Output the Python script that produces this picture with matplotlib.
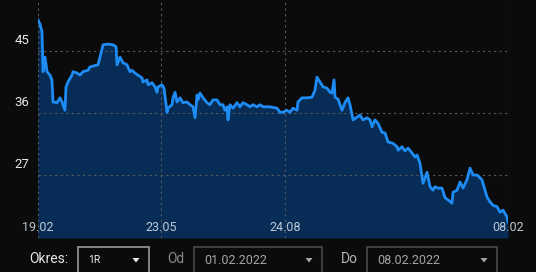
import matplotlib.pyplot as plt
from matplotlib.patches import Rectangle, Polygon

# days since 19.02.2021 and price
days = [0, 1.5, 3, 3.8, 5.3, 6.8, 9, 10.5, 11.3, 14.3, 16.6, 18.1, 20.3, 21.1, 22.6,
        25.6, 26.4, 29.4, 31.6, 33.9, 37.7, 39.2, 41.4, 45.2, 46.7, 49, 52.7, 56.5,
        58.8, 59.5, 61.8, 64, 67, 69.3, 70.8, 73, 75.3, 78.3, 79.1, 82.1, 82.9, 85.9,
        88.1, 89.6, 90.4, 93.4, 94.9, 97.2, 97.9, 100.9, 101.7, 103.2, 104.7, 107,
        109.2, 112.2, 114.5, 116.7, 118.3, 119.8, 120.5, 122, 124.3, 127.3, 129.5,
        131.8, 134.8, 137.1, 139.3, 140.8, 142.4, 143.1, 144.6, 146.9, 149.9, 152.1,
        154.4, 157.4, 159.7, 161.9, 165, 167.2, 169.5, 174.7, 180, 182.3, 184.5,
        187.5, 189.8, 192.1, 195.1, 195.8, 198.8, 202.6, 206.4, 208.6, 210.1, 212.4,
        214.7, 217.7, 220, 221.4, 223, 223.7, 226, 229, 231.2, 233.5, 235, 237.3,
        240.3, 242.5, 244.8, 247.8, 250.1, 251.6, 253.8, 256.1, 259.1, 261.4, 263.6,
        267.4, 270.4, 271.2, 274.2, 276.4, 278.7, 281.7, 284, 285.5, 287.7, 290, 293,
        295.3, 297.5, 299, 301.3, 304.3, 306.6, 308.8, 311.8, 312.6, 315.6, 317.9,
        320.1, 323.1, 325.4, 327.7, 330.7, 332.9, 334.4, 338.2, 340.5, 342.7, 345.7,
        348, 350.3, 353.3, 354]
price = [49.5, 48.9, 47.8, 42.0, 44.1, 42.0, 41.5, 40.8, 37.6, 37.5, 38.2, 37.6, 36.4,
         39.8, 40.5, 41.5, 42.0, 41.8, 41.5, 42.0, 42.2, 42.7, 42.8, 43.0, 44.1, 45.9,
         46.0, 45.9, 45.6, 43.0, 44.1, 43.3, 43.0, 42.0, 42.2, 41.8, 41.5, 41.1, 40.5,
         40.8, 40.1, 40.4, 39.8, 39.0, 39.8, 40.1, 39.6, 36.1, 36.7, 37.2, 38.2, 39.0,
         37.6, 38.2, 37.5, 37.6, 37.2, 36.9, 35.3, 38.6, 37.9, 38.9, 38.2, 37.5, 37.2,
         37.9, 37.9, 37.2, 37.2, 36.4, 36.9, 35.0, 37.2, 36.7, 37.5, 36.9, 37.5, 37.2,
         36.9, 37.2, 36.9, 37.2, 36.9, 36.9, 36.7, 36.1, 36.1, 36.4, 36.1, 36.7, 36.4,
         37.6, 38.2, 38.2, 38.3, 39.3, 41.2, 40.5, 39.8, 39.6, 39.0, 38.9, 40.8, 38.3,
         38.0, 36.4, 37.5, 38.2, 37.2, 35.0, 35.4, 35.7, 35.0, 35.3, 35.0, 34.0, 35.0,
         34.5, 33.2, 33.1, 31.8, 31.6, 31.1, 30.6, 31.1, 30.5, 30.9, 30.2, 29.6, 29.9,
         28.7, 25.8, 27.4, 25.3, 24.8, 25.3, 25.1, 25.1, 23.7, 23.4, 22.9, 24.5, 24.8,
         26.0, 25.1, 26.3, 28.0, 27.0, 27.0, 26.6, 26.3, 23.8, 23.1, 22.6, 22.4, 21.6,
         21.9, 20.9, 20.2]

tick_days = [0, 93, 186, 354]
tick_labels = ["19.02", "23.05", "24.08", "08.02"]
y_ticks = [45, 36, 27]

bg = "#0b0b0b"
W, H = 536, 272

fig = plt.figure(figsize=(W / 100, H / 100), dpi=100, facecolor=bg)
plt.rcParams['font.family'] = ['Roboto', 'DejaVu Sans']

ax = fig.add_axes([38 / W, 1 - 238 / H, 470 / W, 238 / H])
ax.set_facecolor(bg)
ymin, ymax = 17.86, 52.4
ax.set_xlim(0, 354)
ax.set_ylim(ymin, ymax)

ax.fill_between(days, price, ymin, color="#072c55", zorder=1, linewidth=0)
ax.plot(days, price, color="#1e8cf5", linewidth=2.0, zorder=4, solid_joinstyle="round")

for d in tick_days:
    ax.axvline(d, color="#5a5a5a", linewidth=0.8, linestyle=(0, (2, 3)), zorder=2)
for v in y_ticks:
    ax.axhline(v, color="#5a5a5a", linewidth=0.8, linestyle=(0, (2, 3)), zorder=2)

for s in ax.spines.values():
    s.set_visible(False)
ax.set_xticks([])
ax.set_yticks([])

for v in y_ticks:
    ax.annotate(str(v), xy=(0, v), xycoords=ax.get_yaxis_transform(),
                xytext=(-6, 3), textcoords="offset points", ha="right", va="bottom",
                color="#e8e8e8", fontsize=9.5, annotation_clip=False)
for d, lab in zip(tick_days, tick_labels):
    ax.annotate(lab, xy=(d, 0), xycoords=ax.get_xaxis_transform(),
                xytext=(0, 3), textcoords="offset points", ha="center", va="bottom",
                color="#dde6f0", alpha=0.85, fontsize=9, annotation_clip=False, zorder=5)


def px(x, y):
    return x / W, 1 - y / H


def dropdown(x0, x1, text, edge, tcolor, acolor):
    fig.patches.append(Rectangle(px(x0, 275), (x1 - x0) / W, 28 / H, transform=fig.transFigure,
                                 facecolor=bg, edgecolor=edge, linewidth=1.2))
    fig.text(*px(x0 + 10, 260), text, color=tcolor, fontsize=9 if len(text) > 3 else 7.5,
             ha="left", va="center")
    cx = x1 - 13
    fig.patches.append(Polygon([px(cx - 3.5, 258), px(cx + 3.5, 258), px(cx, 262.5)],
                               closed=True, transform=fig.transFigure,
                               facecolor=acolor, edgecolor="none"))


fig.text(*px(29, 259), "Okres:", color="#e6e6e6", fontsize=10, ha="left", va="center")
dropdown(78, 149, "1R", "#9a9a9a", "#eeeeee", "#eeeeee")
fig.text(*px(167, 259), "Od", color="#8a8a8a", fontsize=10, ha="left", va="center")
dropdown(194, 322, "01.02.2022", "#4a4a4a", "#a5a5a5", "#a5a5a5")
fig.text(*px(341, 259), "Do", color="#b5b5b5", fontsize=10, ha="left", va="center")
dropdown(367, 497, "08.02.2022", "#4a4a4a", "#a5a5a5", "#a5a5a5")

fig.savefig("out.png", dpi=100, facecolor=bg)
